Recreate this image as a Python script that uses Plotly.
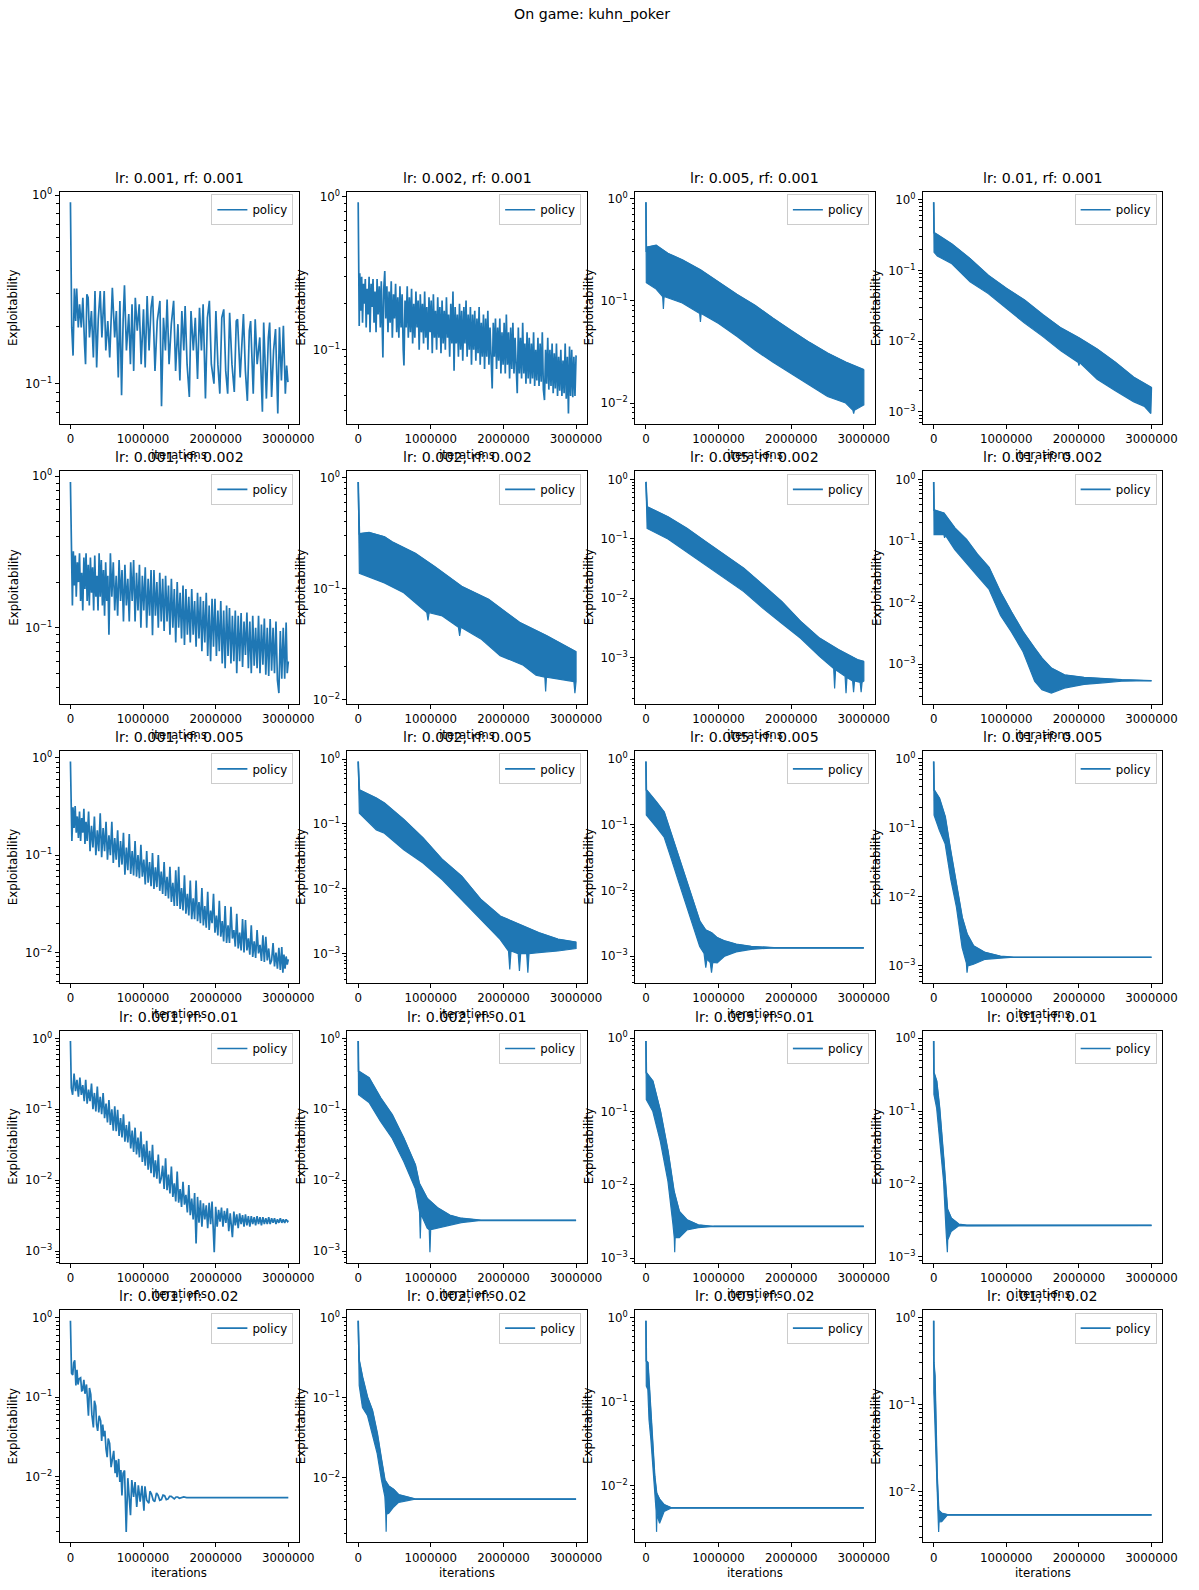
import math
import plotly.graph_objects as go

# ---------------- chart text / categories ----------------
SUPTITLE = "On game: kuhn_poker"
LR = ["0.001", "0.002", "0.005", "0.01"]
RF = ["0.001", "0.002", "0.005", "0.01", "0.02"]
X_TICKS = [0, 1000000, 2000000, 3000000]
X_TICK_LABELS = ["0", "1000000", "2000000", "3000000"]
Y_TICKS = [1, 0.1, 0.01, 0.001, 0.0001]
Y_TICK_LABELS = ["10<sup>0</sup>", "10<sup>\u22121</sup>", "10<sup>\u22122</sup>",
                 "10<sup>\u22123</sup>", "10<sup>\u22124</sup>"]
START = 0.9167  # exploitability at iteration 0

# ---------------- data: (iterations in thousands, exploitability) ----------------
r1c1 = [(0,0.9167),(18,0.199),(36,0.141),(54,0.320),(72,0.215),(86,0.320),(108,0.199),(126,0.264),(149,0.199),
        (171,0.286),(194,0.162),(208,0.127),(226,0.298),(244,0.286),(262,0.176),(289,0.243),(316,0.138),(338,0.310),
        (361,0.122),(383,0.220),(410,0.310),(433,0.176),(465,0.310),(487,0.150),(514,0.215),(541,0.138),(577,0.323),
        (609,0.176),(632,0.243),(659,0.108),(681,0.275),(704,0.0868),(726,0.220),(744,0.333),(771,0.150),(803,0.234),
        (826,0.127),(848,0.264),(871,0.117),(893,0.286),(920,0.191),(947,0.264),(974,0.127),(1006,0.248),(1029,0.122),
        (1056,0.292),(1083,0.150),(1110,0.253),(1132,0.292),(1164,0.117),(1195,0.215),(1232,0.275),(1254,0.0760),
        (1281,0.224),(1308,0.150),(1331,0.280),(1358,0.127),(1389,0.207),(1421,0.275),(1448,0.117),(1480,0.207),
        (1507,0.104),(1534,0.243),(1561,0.150),(1579,0.258),(1606,0.127),(1637,0.0851),(1660,0.243),(1692,0.150),
        (1719,0.224),(1750,0.106),(1777,0.253),(1804,0.150),(1827,0.264),(1859,0.0834),(1886,0.224),(1913,0.275),
        (1940,0.127),(1976,0.100),(2003,0.243),(2030,0.127),(2057,0.0886),(2084,0.224),(2111,0.248),(2138,0.117),
        (2165,0.0886),(2192,0.238),(2224,0.127),(2256,0.0904),(2283,0.215),(2301,0.220),(2337,0.108),(2382,0.234),
        (2409,0.117),(2436,0.0811),(2463,0.191),(2481,0.215),(2517,0.0886),(2544,0.220),(2571,0.127),(2607,0.176),
        (2643,0.0710),(2661,0.211),(2698,0.0834),(2725,0.176),(2743,0.211),(2770,0.0851),(2797,0.150),(2824,0.195),
        (2855,0.0695),(2878,0.199),(2905,0.104),(2932,0.203),(2959,0.0886),(2977,0.125),(2995,0.102)]

r1c2 = [(0,0.9167),(8,0.20),(14,0.143),(22,0.316),(35,0.18),(48,0.30),(60,0.15),(72,0.27),(85,0.20),(98,0.29),
        (110,0.14),(124,0.25),(137,0.17),(150,0.30),(163,0.13),(178,0.27),(190,0.19),(204,0.29),(218,0.15),(232,0.24),
        (246,0.13),(260,0.29),(274,0.17),(290,0.26),(305,0.14),(318,0.28),(330,0.12),(340,0.089),(352,0.25),(366,0.327),
        (380,0.16),(395,0.26),(410,0.13),(425,0.24),(440,0.15),(455,0.28),(470,0.12),(486,0.23),(500,0.16),(515,0.27),
        (530,0.13),(545,0.22),(560,0.12),(575,0.26),(590,0.14),(605,0.23),(620,0.10),(630,0.079),(645,0.21),(660,0.14),
        (675,0.26),(690,0.12),(705,0.22),(720,0.13),(735,0.25),(750,0.11),(765,0.20),(780,0.12),(795,0.24),(810,0.14),
        (825,0.21),(840,0.10),(855,0.23),(870,0.13),(885,0.20),(900,0.11),(915,0.24),(930,0.12),(945,0.19),(960,0.10),
        (975,0.22),(990,0.13),(1005,0.21),(1020,0.095),(1035,0.23),(1050,0.12),(1065,0.18),(1080,0.10),(1095,0.22),
        (1110,0.12),(1125,0.19),(1140,0.095),(1155,0.21),(1170,0.11),(1185,0.18),(1200,0.10),(1215,0.22),(1230,0.12),
        (1245,0.17),(1260,0.09),(1275,0.20),(1290,0.11),(1305,0.24),(1320,0.073),(1335,0.19),(1350,0.11),(1365,0.17),
        (1380,0.09),(1395,0.20),(1410,0.10),(1425,0.18),(1440,0.085),(1455,0.19),(1470,0.11),(1485,0.21),(1500,0.09),
        (1515,0.17),(1530,0.10),(1545,0.19),(1560,0.08),(1575,0.17),(1590,0.10),(1605,0.18),(1620,0.085),(1635,0.16),
        (1650,0.095),(1665,0.19),(1680,0.08),(1695,0.15),(1710,0.09),(1725,0.17),(1740,0.075),(1755,0.16),(1770,0.09),
        (1785,0.18),(1800,0.08),(1815,0.14),(1830,0.075),(1845,0.056),(1860,0.15),(1875,0.09),(1890,0.16),(1905,0.075),
        (1920,0.14),(1935,0.085),(1950,0.16),(1965,0.07),(1980,0.13),(1995,0.08),(2010,0.15),(2025,0.07),(2040,0.17),
        (2055,0.08),(2070,0.13),(2085,0.065),(2100,0.14),(2115,0.075),(2130,0.15),(2145,0.07),(2160,0.12),(2175,0.065),
        (2190,0.052),(2205,0.14),(2220,0.07),(2235,0.12),(2250,0.065),(2265,0.15),(2280,0.07),(2295,0.11),(2310,0.06),
        (2325,0.13),(2340,0.065),(2355,0.12),(2370,0.06),(2385,0.11),(2400,0.065),(2415,0.13),(2430,0.058),(2445,0.10),
        (2460,0.063),(2475,0.12),(2490,0.058),(2505,0.11),(2520,0.062),(2535,0.13),(2550,0.055),(2565,0.047),(2580,0.10),
        (2595,0.06),(2610,0.12),(2625,0.055),(2640,0.10),(2655,0.058),(2670,0.11),(2685,0.052),(2700,0.095),(2715,0.056),
        (2730,0.11),(2745,0.05),(2760,0.09),(2775,0.054),(2790,0.10),(2805,0.05),(2820,0.085),(2835,0.052),(2850,0.11),
        (2865,0.048),(2880,0.09),(2895,0.0384),(2910,0.105),(2925,0.05),(2940,0.10),(2955,0.049),(2970,0.09),(2985,0.05),
        (3000,0.092)]

r1c3_hi = [(5,0.30),(20,0.333),(140,0.347),(300,0.29),(500,0.25),(750,0.20),(1000,0.152),(1250,0.115),(1500,0.090),
           (1750,0.067),(2000,0.051),(2250,0.039),(2500,0.0306),(2750,0.025),(3000,0.0211)]
r1c3_lo = [(5,0.15),(20,0.147),(140,0.13),(230,0.11),(240,0.083),(250,0.11),(500,0.095),(740,0.075),(750,0.062),
           (760,0.075),(1000,0.060),(1250,0.045),(1500,0.033),(1750,0.025),(2000,0.0195),(2250,0.015),(2500,0.0116),
           (2750,0.0100),(2850,0.0085),(2860,0.0079),(2870,0.0085),(3000,0.0096)]

r1c4_hi = [(5,0.34),(50,0.32),(250,0.235),(500,0.146),(750,0.085),(1000,0.0555),(1250,0.038),(1500,0.0236),
           (1750,0.0153),(2000,0.0111),(2250,0.0077),(2500,0.0050),(2750,0.0031),(3000,0.0022)]
r1c4_lo = [(5,0.18),(50,0.16),(250,0.124),(500,0.069),(750,0.047),(1000,0.0292),(1250,0.018),(1500,0.0117),
           (1750,0.0073),(1990,0.0050),(2000,0.0045),(2010,0.0050),(2250,0.0029),(2500,0.0020),(2750,0.0014),
           (2900,0.0012),(2990,0.00095),(3000,0.0011)]

r2c1 = [(0,0.9167),(14,0.20),(27,0.14),(40,0.32),(54,0.19),(67,0.30),(80,0.16),(95,0.27),(110,0.20),(125,0.31),
        (140,0.15),(155,0.23),(170,0.13),(185,0.29),(200,0.18),(215,0.31),(230,0.15),(245,0.26),(260,0.14),(275,0.29),
        (290,0.17),(305,0.25),(320,0.13),(335,0.30),(350,0.16),(365,0.22),(380,0.13),(395,0.31),(410,0.16),(425,0.28),
        (440,0.14),(455,0.24),(470,0.12),(485,0.27),(500,0.15),(515,0.22),(530,0.09),(550,0.31),(570,0.16),(590,0.27),
        (610,0.13),(630,0.22),(650,0.12),(670,0.28),(690,0.15),(710,0.24),(730,0.11),(750,0.26),(770,0.14),(790,0.21),
        (810,0.11),(830,0.27),(850,0.15),(870,0.28),(890,0.11),(910,0.23),(930,0.13),(950,0.26),(970,0.10),(990,0.22),
        (1010,0.13),(1030,0.25),(1050,0.10),(1070,0.21),(1090,0.12),(1110,0.24),(1130,0.089),(1150,0.24),(1170,0.12),
        (1190,0.20),(1210,0.10),(1230,0.23),(1250,0.11),(1270,0.21),(1290,0.095),(1310,0.22),(1330,0.11),(1350,0.19),
        (1370,0.09),(1390,0.21),(1410,0.10),(1430,0.18),(1450,0.08),(1470,0.20),(1490,0.10),(1510,0.17),(1530,0.085),
        (1550,0.19),(1570,0.077),(1590,0.18),(1610,0.09),(1630,0.16),(1650,0.08),(1670,0.18),(1690,0.09),(1710,0.15),
        (1730,0.075),(1750,0.17),(1770,0.085),(1790,0.16),(1810,0.07),(1830,0.15),(1850,0.08),(1870,0.17),(1890,0.065),
        (1910,0.14),(1930,0.06),(1950,0.155),(1970,0.075),(1990,0.155),(2010,0.065),(2030,0.13),(2050,0.07),(2070,0.15),
        (2090,0.058),(2110,0.13),(2130,0.054),(2150,0.14),(2170,0.065),(2190,0.135),(2210,0.058),(2230,0.12),(2250,0.06),
        (2270,0.13),(2290,0.05),(2310,0.12),(2330,0.06),(2350,0.125),(2370,0.055),(2390,0.11),(2410,0.066),(2430,0.126),
        (2450,0.054),(2470,0.11),(2490,0.05),(2510,0.12),(2530,0.056),(2550,0.10),(2570,0.054),(2590,0.12),(2610,0.05),
        (2630,0.105),(2650,0.057),(2670,0.115),(2690,0.049),(2710,0.10),(2730,0.048),(2750,0.114),(2770,0.052),
        (2790,0.10),(2810,0.05),(2830,0.11),(2850,0.045),(2870,0.037),(2890,0.095),(2910,0.046),(2930,0.10),(2950,0.046),
        (2970,0.108),(2985,0.05),(3000,0.06)]

r2c2_hi = [(16,0.313),(150,0.32),(361,0.293),(467,0.264),(786,0.208),(1051,0.158),(1423,0.105),(1795,0.080),
           (2220,0.0497),(2591,0.0377),(3000,0.027)]
r2c2_lo = [(16,0.138),(361,0.113),(627,0.092),(945,0.061),(961,0.052),(977,0.061),(1158,0.057),(1380,0.045),
           (1397,0.0377),(1414,0.045),(1689,0.0354),(1954,0.025),(2273,0.0205),(2448,0.0167),(2570,0.016),
           (2581,0.0119),(2592,0.016),(2970,0.0146),(2984,0.0115),(3000,0.0146)]

r2c3_hi = [(16,0.347),(303,0.235),(563,0.150),(824,0.089),(1085,0.053),(1346,0.0318),(1607,0.0167),(1868,0.00874),
           (2129,0.00403),(2389,0.0021),(2650,0.00135),(2911,0.00091),(3000,0.00085)]
r2c3_lo = [(16,0.150),(303,0.100),(563,0.061),(824,0.036),(1085,0.0216),(1346,0.0129),(1607,0.0068),(1868,0.00378),
           (2129,0.00211),(2389,0.00104),(2585,0.00065),(2598,0.00030),(2611,0.00062),(2742,0.00048),(2755,0.00025),
           (2768,0.00046),(2846,0.00040),(2859,0.00026),(2872,0.00040),(2950,0.00038),(2963,0.00026),(2976,0.00038),
           (3000,0.00040)]

r2c4_hi = [(5,0.32),(140,0.284),(290,0.163),(450,0.106),(600,0.061),(760,0.0372),(920,0.0147),(1070,0.00703),
           (1230,0.00335),(1390,0.00181),(1490,0.00125),(1620,0.00086),(1800,0.00067),(2070,0.00061),(2330,0.00058),
           (2590,0.00056),(3000,0.00054)]
r2c4_lo = [(5,0.128),(140,0.128),(150,0.113),(160,0.125),(290,0.073),(450,0.0447),(600,0.0273),(760,0.0167),
           (920,0.0062),(1070,0.00335),(1230,0.0016),(1390,0.00053),(1490,0.000387),(1620,0.00034),(1800,0.00041),
           (2070,0.00047),(2330,0.00050),(2590,0.00053),(3000,0.00054)]

r3c1 = [(0,0.9167),(10,0.20),(20,0.14),(35,0.31),(50,0.19),(65,0.32),(80,0.17),(95,0.25),(110,0.15),(125,0.28),
        (140,0.14),(155,0.24),(170,0.17),(185,0.30),(200,0.13),(215,0.22),(230,0.14),(250,0.28),(270,0.11),(290,0.20),
        (310,0.12),(330,0.25),(350,0.10),(370,0.18),(390,0.11),(410,0.27),(430,0.095),(450,0.19),(470,0.11),(490,0.22),
        (510,0.09),(530,0.16),(550,0.10),(570,0.22),(590,0.083),(610,0.15),(630,0.09),(650,0.18),(670,0.075),(690,0.14),
        (710,0.08),(730,0.17),(750,0.063),(770,0.12),(790,0.07),(810,0.165),(830,0.064),(850,0.11),(870,0.062),
        (890,0.14),(910,0.06),(930,0.10),(950,0.058),(970,0.128),(990,0.06),(1010,0.09),(1030,0.05),(1050,0.11),
        (1070,0.052),(1090,0.085),(1110,0.048),(1130,0.105),(1150,0.045),(1170,0.075),(1190,0.047),(1210,0.10),
        (1230,0.043),(1250,0.068),(1270,0.04),(1290,0.085),(1310,0.038),(1330,0.06),(1350,0.036),(1370,0.076),
        (1390,0.033),(1410,0.052),(1430,0.03),(1450,0.07),(1470,0.03),(1490,0.076),(1510,0.028),(1530,0.046),
        (1550,0.027),(1570,0.062),(1590,0.025),(1610,0.04),(1630,0.024),(1650,0.055),(1670,0.022),(1690,0.036),
        (1710,0.022),(1730,0.055),(1750,0.021),(1770,0.033),(1790,0.02),(1810,0.046),(1830,0.019),(1850,0.03),
        (1870,0.018),(1890,0.042),(1910,0.017),(1930,0.027),(1950,0.02),(1970,0.040),(1990,0.016),(2010,0.024),
        (2030,0.015),(2050,0.034),(2070,0.0145),(2090,0.021),(2110,0.013),(2130,0.03),(2150,0.0125),(2170,0.019),
        (2190,0.0125),(2210,0.0295),(2230,0.0139),(2250,0.017),(2270,0.0115),(2290,0.025),(2310,0.011),(2330,0.016),
        (2350,0.0105),(2370,0.022),(2390,0.010),(2410,0.0216),(2430,0.0105),(2450,0.014),(2470,0.0095),(2490,0.019),
        (2510,0.009),(2530,0.013),(2550,0.0088),(2570,0.017),(2590,0.0098),(2610,0.012),(2630,0.0082),(2650,0.015),
        (2670,0.008),(2690,0.0145),(2710,0.0083),(2730,0.011),(2750,0.0076),(2770,0.0083),(2790,0.0125),(2810,0.0072),
        (2830,0.010),(2850,0.0068),(2870,0.0112),(2890,0.0066),(2910,0.0114),(2925,0.0062),(2940,0.0095),(2955,0.0068),
        (2970,0.0091),(2985,0.0075),(3000,0.0085)]

r3c2_hi = [(16,0.334),(250,0.249),(361,0.208),(627,0.116),(892,0.0604),(1158,0.0281),(1423,0.0156),(1689,0.0068),
           (1954,0.00378),(2220,0.00282),(2485,0.0021),(2750,0.00166),(3000,0.0015)]
r3c2_lo = [(16,0.146),(250,0.081),(361,0.072),(627,0.040),(892,0.025),(1158,0.0138),(1423,0.0068),(1689,0.00336),
           (1954,0.00166),(2070,0.0011),(2087,0.00057),(2104,0.0011),(2203,0.0010),(2220,0.00054),(2237,0.0010),
           (2320,0.0010),(2336,0.00051),(2352,0.0010),(2485,0.00104),(2750,0.0011),(3000,0.0012)]

r3c3_hi = [(5,0.339),(146,0.219),(250,0.155),(350,0.071),(450,0.0324),(540,0.0160),(640,0.0073),(740,0.0034),
           (820,0.0025),(903,0.00226),(981,0.0019),(1085,0.00169),(1242,0.00151),(1450,0.0014),(1763,0.00134),
           (3000,0.00134)]
r3c3_lo = [(5,0.141),(146,0.091),(250,0.065),(350,0.030),(450,0.0135),(540,0.0066),(640,0.0030),(740,0.0014),
           (800,0.0011),(824,0.000666),(840,0.0009),(885,0.0008),(903,0.00056),(920,0.0008),(981,0.00079),
           (1085,0.0010),(1242,0.00116),(1450,0.00127),(1763,0.00134),(3000,0.00134)]

r3c4_hi = [(5,0.354),(78,0.267),(157,0.145),(235,0.045),(313,0.0155),(391,0.00506),(459,0.00289),(548,0.00195),
           (709,0.00156),(918,0.00138),(1100,0.00134),(3000,0.00134)]
r3c4_lo = [(5,0.153),(78,0.0925),(157,0.0591),(235,0.018),(313,0.0071),(391,0.00185),(450,0.0011),(459,0.0008),
           (470,0.0010),(548,0.00106),(709,0.00125),(918,0.0013),(1100,0.00134),(3000,0.00134)]

r4c1 = [(0,0.9167),(12,0.20),(30,0.16),(50,0.32),(70,0.18),(90,0.26),(110,0.15),(130,0.28),(150,0.16),(170,0.22),
        (190,0.13),(210,0.26),(230,0.12),(250,0.19),(270,0.13),(290,0.23),(310,0.10),(330,0.17),(350,0.093),(370,0.21),
        (390,0.09),(410,0.15),(430,0.085),(450,0.17),(470,0.075),(490,0.12),(510,0.065),(530,0.135),(550,0.06),
        (570,0.10),(590,0.05),(610,0.11),(630,0.049),(650,0.0986),(670,0.042),(690,0.075),(710,0.04),(730,0.085),
        (750,0.035),(770,0.06),(790,0.034),(810,0.067),(830,0.028),(850,0.05),(870,0.025),(890,0.055),(910,0.023),
        (930,0.04),(950,0.021),(970,0.0486),(990,0.018),(1010,0.032),(1030,0.016),(1050,0.036),(1070,0.014),
        (1090,0.026),(1110,0.0125),(1130,0.0315),(1150,0.011),(1170,0.019),(1190,0.0105),(1210,0.023),(1230,0.009),
        (1250,0.0106),(1270,0.016),(1290,0.0075),(1310,0.0204),(1330,0.0072),(1350,0.012),(1370,0.0065),(1390,0.0155),
        (1410,0.0058),(1430,0.009),(1450,0.005),(1470,0.0132),(1490,0.0048),(1510,0.0075),(1530,0.0042),(1550,0.0095),
        (1570,0.0045),(1590,0.0062),(1610,0.0035),(1630,0.0085),(1650,0.0032),(1670,0.0055),(1690,0.0028),
        (1710,0.0066),(1730,0.00128),(1750,0.0058),(1770,0.0025),(1790,0.0052),(1810,0.0022),(1830,0.0047),
        (1850,0.0028),(1870,0.0044),(1890,0.0021),(1910,0.0048),(1930,0.0024),(1950,0.0050),(1980,0.00096),
        (2000,0.0042),(2020,0.0022),(2040,0.0038),(2060,0.0026),(2080,0.0041),(2100,0.0022),(2120,0.0037),
        (2140,0.0025),(2160,0.0040),(2180,0.0019),(2200,0.0034),(2230,0.00157),(2250,0.0036),(2270,0.0023),
        (2290,0.0033),(2310,0.0021),(2330,0.0034),(2350,0.0024),(2370,0.0032),(2390,0.0022),(2410,0.0033),
        (2430,0.0023),(2450,0.0031),(2470,0.0022),(2490,0.0031),(2510,0.0024),(2530,0.0030),(2550,0.0023),
        (2570,0.0031),(2590,0.0024),(2610,0.0030),(2630,0.0023),(2650,0.0030),(2670,0.0024),(2690,0.0029),
        (2710,0.0024),(2730,0.0030),(2750,0.0024),(2770,0.0029),(2790,0.0025),(2810,0.0029),(2830,0.0024),
        (2850,0.0028),(2870,0.0025),(2890,0.0029),(2910,0.0025),(2930,0.0028),(2950,0.0025),(2970,0.0028),
        (2990,0.0026),(3000,0.0027)]

r4c2_hi = [(5,0.344),(149,0.277),(308,0.144),(467,0.0837),(627,0.039),(786,0.0164),(840,0.009),(950,0.0055),
           (1100,0.0040),(1260,0.0032),(1420,0.00288),(1690,0.0027),(3000,0.0027)]
r4c2_lo = [(5,0.161),(149,0.125),(308,0.0674),(467,0.039),(627,0.0183),(786,0.00765),(845,0.0035),(855,0.0015),
           (865,0.0033),(950,0.0021),(978,0.0020),(988,0.00096),(998,0.0020),(1100,0.0021),(1260,0.0023),
           (1420,0.00252),(1690,0.0027),(3000,0.0027)]

r4c3_hi = [(5,0.339),(94,0.26),(198,0.101),(303,0.0286),(386,0.0081),(459,0.00431),(563,0.00332),(720,0.00283),
           (930,0.0027),(3000,0.0027)]
r4c3_lo = [(5,0.146),(94,0.101),(198,0.0392),(303,0.0111),(370,0.0030),(390,0.0019),(396,0.0012),(402,0.0019),
           (459,0.0019),(563,0.00242),(720,0.0026),(930,0.0027),(3000,0.0027)]

r4c4_hi = [(3,0.336),(40,0.258),(80,0.111),(136,0.0227),(172,0.00637),(188,0.0045),(240,0.00339),(344,0.00279),
           (454,0.0027),(3000,0.0027)]
r4c4_lo = [(3,0.169),(40,0.111),(80,0.0475),(136,0.0108),(172,0.0021),(183,0.0017),(188,0.00115),(193,0.0017),
           (240,0.00221),(344,0.00265),(454,0.0027),(3000,0.0027)]

r5c1 = [(0,0.9167),(15,0.20),(32,0.19),(45,0.27),(59,0.29),(75,0.14),(90,0.22),(104,0.144),(120,0.17),(140,0.175),
        (155,0.12),(167,0.121),(185,0.165),(200,0.11),(221,0.144),(235,0.075),(248,0.058),(262,0.13),(280,0.108),
        (295,0.06),(316,0.0414),(330,0.09),(348,0.077),(360,0.045),(375,0.0375),(395,0.058),(416,0.05),(430,0.028),
        (445,0.045),(460,0.032),(474,0.0375),(490,0.022),(506,0.0175),(520,0.03),(540,0.026),(560,0.0131),(580,0.018),
        (596,0.021),(615,0.011),(630,0.016),(642,0.0098),(655,0.014),(664,0.0166),(680,0.0085),(695,0.012),
        (709,0.00576),(725,0.011),(745,0.0119),(768,0.0020),(790,0.0095),(810,0.0055),(827,0.00325),(845,0.009),
        (870,0.0055),(890,0.0085),(913,0.00411),(935,0.0077),(960,0.0048),(985,0.0076),(1012,0.0037),(1026,0.0075),
        (1050,0.0050),(1080,0.0046),(1095,0.0065),(1116,0.0060),(1140,0.0050),(1161,0.0048),(1185,0.0062),
        (1206,0.0058),(1230,0.0050),(1252,0.0051),(1275,0.0058),(1297,0.0057),(1320,0.0051),(1345,0.0052),
        (1365,0.0056),(1387,0.0056),(1410,0.0053),(1430,0.0052),(1455,0.0055),(1477,0.0055),(1500,0.0053),
        (1530,0.0054),(1560,0.0055),(1600,0.0054),(2000,0.0054),(3000,0.0054)]

r5c2_hi = [(14,0.29),(59,0.18),(127,0.101),(195,0.069),(262,0.0356),(321,0.0166),(367,0.0093),(421,0.0078),
           (489,0.0071),(557,0.0061),(647,0.0058),(783,0.0054),(3000,0.0054)]
r5c2_lo = [(14,0.142),(59,0.075),(127,0.060),(195,0.0356),(262,0.020),(321,0.0093),(367,0.0058),(380,0.0035),
           (385,0.0021),(390,0.0035),(421,0.0036),(489,0.0043),(557,0.0049),(647,0.0051),(783,0.0054),(3000,0.0054)]

r5c3_hi = [(5,0.303),(26,0.29),(42,0.167),(68,0.067),(94,0.0293),(120,0.0128),(146,0.0081),(188,0.0068),
           (250,0.00587),(350,0.0054),(3000,0.0054)]
r5c3_lo = [(5,0.152),(26,0.139),(42,0.061),(68,0.035),(94,0.0169),(120,0.0089),(140,0.0050),(146,0.0028),
           (152,0.0045),(188,0.00355),(250,0.0049),(350,0.0054),(3000,0.0054)]

r5c4_hi = [(2,0.30),(16,0.212),(30,0.047),(47,0.0149),(68,0.0061),(110,0.00562),(190,0.0054),(3000,0.0054)]
r5c4_lo = [(2,0.136),(16,0.061),(30,0.0253),(47,0.0088),(62,0.0050),(68,0.00345),(74,0.0045),(110,0.00451),
           (190,0.0054),(3000,0.0054)]

PANELS = {
    (0, 0): ("line", r1c1), (0, 1): ("line", r1c2), (0, 2): ("band", r1c3_hi, r1c3_lo), (0, 3): ("band", r1c4_hi, r1c4_lo),
    (1, 0): ("line", r2c1), (1, 1): ("band", r2c2_hi, r2c2_lo), (1, 2): ("band", r2c3_hi, r2c3_lo), (1, 3): ("band", r2c4_hi, r2c4_lo),
    (2, 0): ("line", r3c1), (2, 1): ("band", r3c2_hi, r3c2_lo), (2, 2): ("band", r3c3_hi, r3c3_lo), (2, 3): ("band", r3c4_hi, r3c4_lo),
    (3, 0): ("line", r4c1), (3, 1): ("band", r4c2_hi, r4c2_lo), (3, 2): ("band", r4c3_hi, r4c3_lo), (3, 3): ("band", r4c4_hi, r4c4_lo),
    (4, 0): ("line", r5c1), (4, 1): ("band", r5c2_hi, r5c2_lo), (4, 2): ("band", r5c3_hi, r5c3_lo), (4, 3): ("band", r5c4_hi, r5c4_lo),
}

# ---------------- layout geometry (pixels) ----------------
W, H = 1199, 1590
COL_LEFT = [60.3 + 291.4 * c for c in range(4)]
PW = 242.7
ROW_TOP = [187.7 + 281.0 * r for r in range(5)]
PH = 233.5
COLOR = "#1f77b4"
FONT = "DejaVu Sans"
TICK_FS = 11.8
TITLE_FS = 14.2

MINOR_VALS = [k * 10.0 ** e for e in range(-5, 1) for k in range(2, 10)]

fig = go.Figure()
layout = {}
annotations = []

for (r, c), spec in PANELS.items():
    idx = r * 4 + c + 1
    s = "" if idx == 1 else str(idx)
    xa, ya = "x" + s, "y" + s
    leg = "legend" + s
    if spec[0] == "line":
        pts = spec[1]
        xs = [p[0] * 1000 for p in pts]
        ys = [p[1] for p in pts]
        fig.add_trace(go.Scatter(x=xs, y=ys, mode="lines", name="policy", legend=leg,
                                 line=dict(color=COLOR, width=1.7), xaxis=xa, yaxis=ya,
                                 hoverinfo="skip"))
        all_y = ys
    else:
        hi, lo = spec[1], spec[2]
        poly = [(0, START)] + hi + lo[::-1] + [(0, START)]
        fig.add_trace(go.Scatter(x=[p[0] * 1000 for p in poly], y=[p[1] for p in poly],
                                 mode="lines", fill="toself", fillcolor=COLOR,
                                 line=dict(color=COLOR, width=1.2), showlegend=False,
                                 xaxis=xa, yaxis=ya, hoverinfo="skip"))
        edge = [(0, START)] + hi
        fig.add_trace(go.Scatter(x=[p[0] * 1000 for p in edge], y=[p[1] for p in edge],
                                 mode="lines", name="policy", legend=leg,
                                 line=dict(color=COLOR, width=1.7), xaxis=xa, yaxis=ya,
                                 hoverinfo="skip"))
        all_y = [p[1] for p in hi + lo] + [START]
    lmin, lmax = math.log10(min(all_y)), math.log10(max(all_y))
    span = lmax - lmin
    yr = [lmin - 0.05 * span, lmax + 0.05 * span]

    left, top = COL_LEFT[c], ROW_TOP[r]
    x0, x1 = left / W, (left + PW) / W
    y1, y0 = 1 - top / H, 1 - (top + PH) / H

    layout["xaxis" + s] = dict(
        domain=[x0, x1], anchor=ya, range=[-150000, 3150000], tickmode="array",
        tickvals=X_TICKS, ticktext=X_TICK_LABELS, ticks="outside", ticklen=4, tickwidth=1,
        tickcolor="black", showline=True, mirror=True, linecolor="black", linewidth=1,
        showgrid=False, zeroline=False, ticklabelstandoff=0,
        tickfont=dict(family=FONT, size=TICK_FS, color="black"))
    layout["yaxis" + s] = dict(
        domain=[y0, y1], anchor=xa, type="log", range=yr, tickmode="array",
        tickvals=Y_TICKS, ticktext=Y_TICK_LABELS, ticks="outside", ticklen=4, tickwidth=1,
        tickcolor="black", showline=True, mirror=True, linecolor="black", linewidth=1,
        showgrid=False, zeroline=False, ticklabelstandoff=0,
        minor=dict(tickmode="array", tickvals=MINOR_VALS, ticks="outside", ticklen=2.4,
                   tickwidth=0.7, tickcolor="black", showgrid=False),
        tickfont=dict(family=FONT, size=TICK_FS, color="black"))
    layout[leg] = dict(
        x=(left + PW - 5.9) / W, y=1 - (top + 2.5) / H, xanchor="right", yanchor="top",
        xref="paper", yref="paper", bgcolor="rgba(255,255,255,0.8)", bordercolor="#cccccc",
        borderwidth=1, font=dict(family=FONT, size=TICK_FS, color="black"), itemwidth=30)

    annotations.append(dict(text=f"lr: {LR[c]}, rf: {RF[r]}", x=(left + PW / 2) / W,
                            y=1 - (top - 14) / H, xref="paper", yref="paper", showarrow=False,
                            xanchor="center", yanchor="middle",
                            font=dict(family=FONT, size=TITLE_FS, color="black")))
    annotations.append(dict(text="Exploitability", x=(left - 47) / W, y=1 - (top + PH / 2) / H,
                            xref="paper", yref="paper", showarrow=False, textangle=-90,
                            xanchor="center", yanchor="middle",
                            font=dict(family=FONT, size=TICK_FS, color="black")))
    annotations.append(dict(text="iterations", x=(left + PW / 2) / W, y=1 - (top + PH + 31) / H,
                            xref="paper", yref="paper", showarrow=False,
                            xanchor="center", yanchor="middle",
                            font=dict(family=FONT, size=TICK_FS, color="black")))

annotations.append(dict(text=SUPTITLE, x=0.5, y=1 - 9 / H, xref="paper", yref="paper",
                        showarrow=False, xanchor="center", yanchor="middle",
                        font=dict(family=FONT, size=TITLE_FS, color="black")))

fig.update_layout(**layout)
fig.update_layout(width=W, height=H, margin=dict(l=0, r=0, t=0, b=0, pad=0),
                  paper_bgcolor="white", plot_bgcolor="white", annotations=annotations,
                  font=dict(family=FONT, size=TICK_FS, color="black"), hovermode=False)

fig.write_html("out.html", config={"displayModeBar": False},
               post_script="document.body.style.margin='0';")
